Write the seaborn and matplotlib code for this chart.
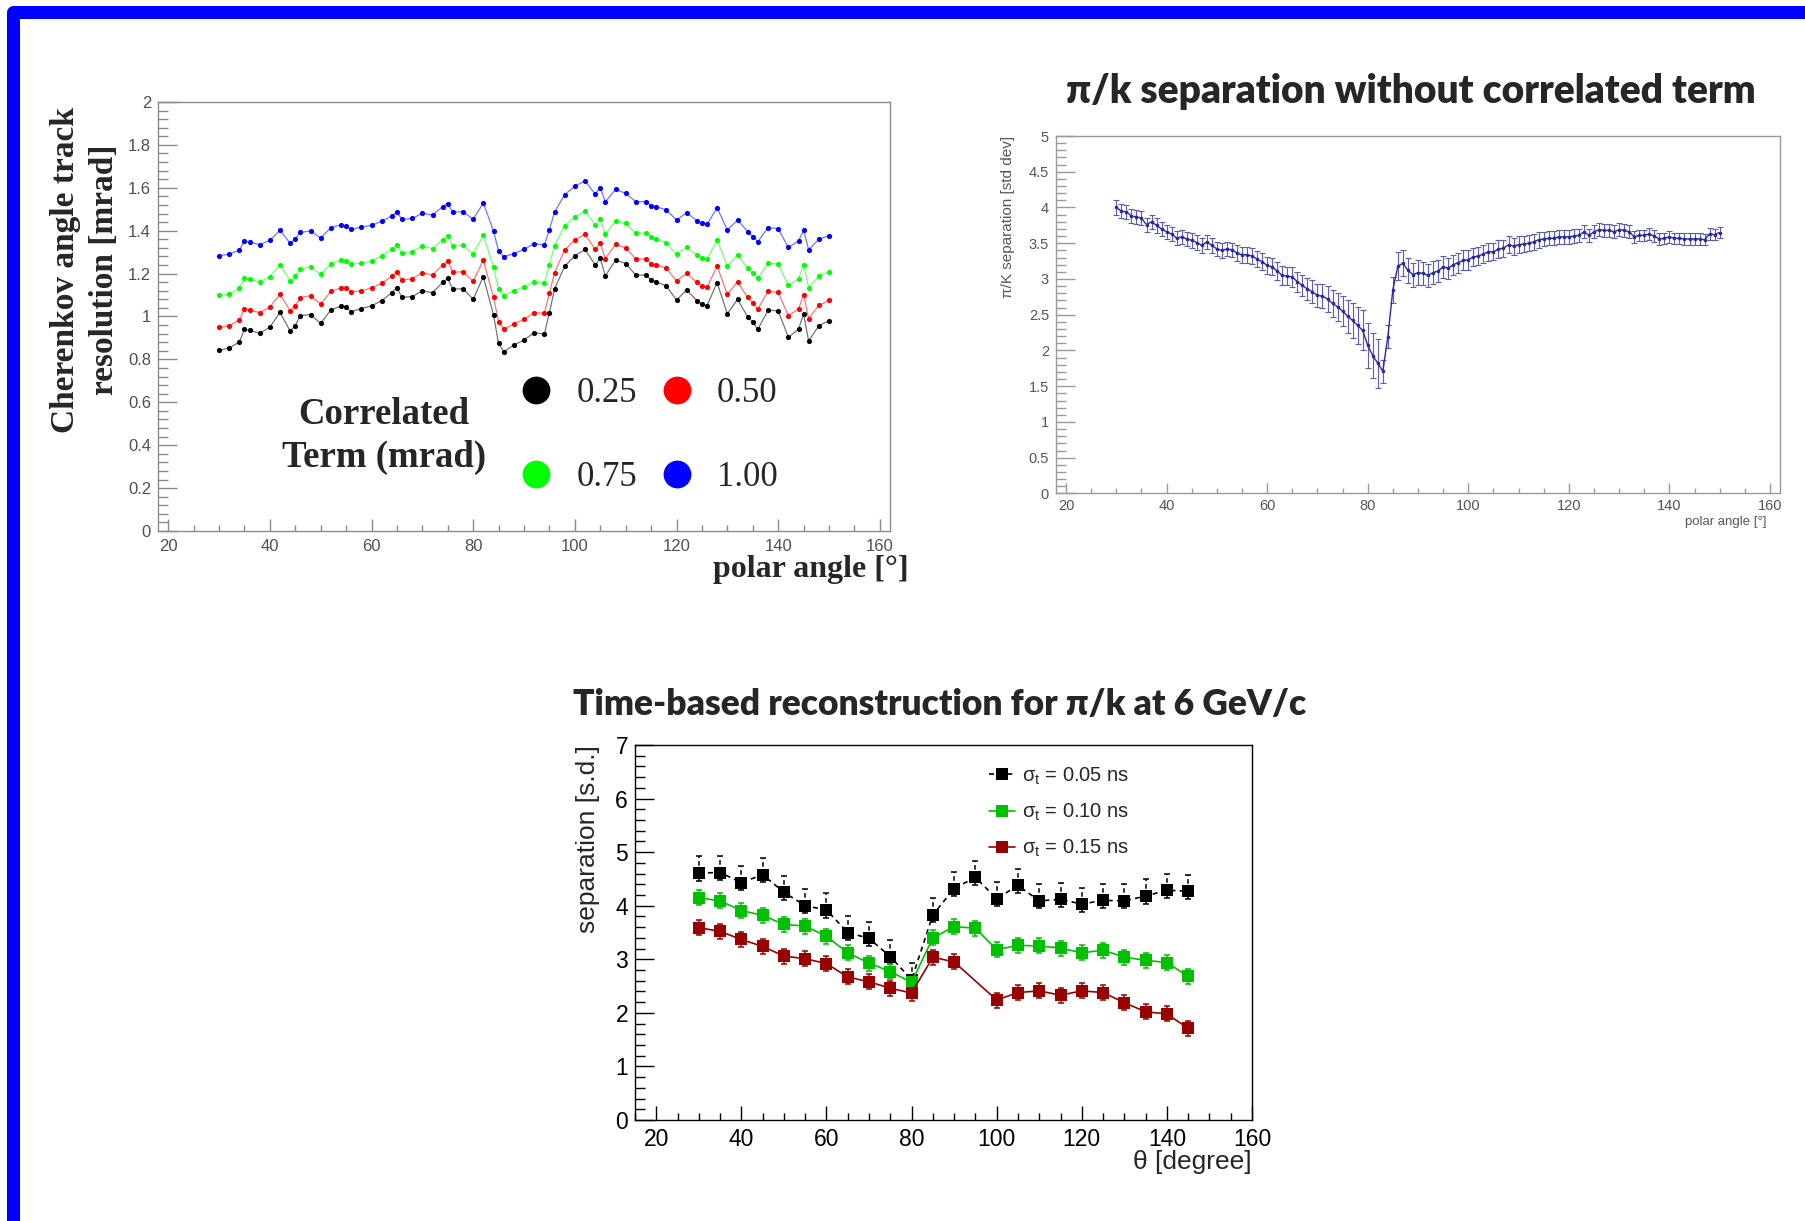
import matplotlib
matplotlib.use("Agg")
import matplotlib.pyplot as plt
import seaborn as sns
from matplotlib.lines import Line2D
from matplotlib.patches import Rectangle
from matplotlib.ticker import MultipleLocator, FuncFormatter

W, H = 1805, 1221

# ---------------- Cherenkov angle track resolution vs polar angle ----------------
res_angle = [30, 32, 34, 35, 36, 38, 40, 42, 44, 45, 46, 48, 50, 52, 54, 55, 56, 58, 60, 62, 64, 65, 66, 68, 70,
             72, 74, 75, 76, 78, 80, 82, 84, 85, 86, 88, 90, 92, 94, 95, 96, 98, 100, 102, 104, 105, 106, 108, 110,
             112, 114, 115, 116, 118, 120, 122, 124, 125, 126, 128, 130, 132, 134, 135, 136, 138, 140, 142, 144, 145,
             146, 148, 150]
res_025 = [0.842, 0.853, 0.881, 0.940, 0.936, 0.922, 0.950, 1.019, 0.932, 0.957, 1.004, 1.009, 0.968, 1.030, 1.049,
           1.044, 1.023, 1.037, 1.049, 1.074, 1.111, 1.134, 1.089, 1.093, 1.120,
           1.111, 1.159, 1.178, 1.127, 1.130, 1.080, 1.186, 1.007, 0.875, 0.836, 0.867, 0.890, 0.925, 0.918, 1.018,
           1.127, 1.235, 1.282, 1.313, 1.240, 1.271, 1.189, 1.263, 1.247,
           1.193, 1.193, 1.170, 1.162, 1.142, 1.077, 1.124, 1.074, 1.058, 1.051, 1.158, 1.012, 1.080, 0.999, 0.973,
           0.940, 1.029, 1.027, 0.903, 0.940, 1.012, 0.886, 0.957, 0.981]
res_050 = [0.950, 0.957, 0.984, 1.035, 1.030, 1.018, 1.044, 1.103, 1.027, 1.050, 1.088, 1.097, 1.058, 1.117, 1.134,
           1.131, 1.116, 1.119, 1.134, 1.155, 1.187, 1.209, 1.170, 1.176, 1.204,
           1.193, 1.240, 1.259, 1.206, 1.209, 1.164, 1.263, 1.089, 0.976, 0.940, 0.965, 0.987, 1.018, 1.015, 1.108,
           1.204, 1.310, 1.357, 1.383, 1.313, 1.341, 1.270, 1.336, 1.320,
           1.268, 1.268, 1.246, 1.242, 1.225, 1.166, 1.201, 1.159, 1.142, 1.136, 1.235, 1.103, 1.162, 1.089, 1.061,
           1.035, 1.117, 1.113, 1.004, 1.035, 1.102, 0.990, 1.052, 1.075]
res_075 = [1.099, 1.105, 1.131, 1.178, 1.173, 1.161, 1.186, 1.240, 1.167, 1.189, 1.223, 1.231, 1.197, 1.246, 1.263,
           1.259, 1.243, 1.249, 1.257, 1.284, 1.313, 1.332, 1.296, 1.303, 1.328,
           1.317, 1.357, 1.373, 1.329, 1.333, 1.292, 1.379, 1.231, 1.126, 1.096, 1.121, 1.138, 1.162, 1.157, 1.240,
           1.330, 1.423, 1.464, 1.491, 1.427, 1.454, 1.383, 1.446, 1.434,
           1.388, 1.388, 1.369, 1.363, 1.341, 1.291, 1.322, 1.287, 1.271, 1.267, 1.357, 1.235, 1.288, 1.225, 1.201,
           1.178, 1.248, 1.245, 1.145, 1.176, 1.239, 1.134, 1.189, 1.208]
res_100 = [1.284, 1.290, 1.310, 1.352, 1.347, 1.335, 1.355, 1.402, 1.341, 1.363, 1.392, 1.399, 1.366, 1.414, 1.428,
           1.422, 1.406, 1.417, 1.425, 1.444, 1.469, 1.486, 1.453, 1.457, 1.481,
           1.473, 1.512, 1.526, 1.486, 1.489, 1.453, 1.529, 1.399, 1.305, 1.279, 1.293, 1.313, 1.340, 1.333, 1.405,
           1.486, 1.568, 1.607, 1.632, 1.571, 1.601, 1.534, 1.593, 1.574,
           1.535, 1.535, 1.517, 1.512, 1.497, 1.450, 1.484, 1.447, 1.434, 1.430, 1.507, 1.403, 1.450, 1.396, 1.371,
           1.349, 1.414, 1.410, 1.322, 1.352, 1.402, 1.312, 1.360, 1.377]
corr_terms = ["0.25", "0.50", "0.75", "1.00"]
corr_colors = ["#000000", "#ff0000", "#00ff00", "#0000ff"]

# ---------------- pi/K separation without correlated term ----------------
sep_angle = list(range(30, 151))
sep_value = [4.00, 3.95, 3.94, 3.88, 3.87, 3.85, 3.76, 3.80, 3.75, 3.70,
             3.66, 3.63, 3.57, 3.59, 3.56, 3.54, 3.51, 3.47, 3.52, 3.47,
             3.42, 3.40, 3.42, 3.41, 3.36, 3.34, 3.34, 3.32, 3.28, 3.24,
             3.19, 3.17, 3.11, 3.05, 3.04, 3.03, 2.96, 2.91, 2.86, 2.82,
             2.77, 2.76, 2.72, 2.66, 2.61, 2.55, 2.48, 2.42, 2.35, 2.28,
             2.07, 1.93, 1.82, 1.71, 2.19, 2.85, 3.18, 3.22, 3.12, 3.06,
             3.09, 3.08, 3.05, 3.09, 3.11, 3.17, 3.15, 3.20, 3.23, 3.26,
             3.27, 3.31, 3.32, 3.35, 3.38, 3.38, 3.42, 3.43, 3.48, 3.46,
             3.48, 3.49, 3.50, 3.52, 3.55, 3.56, 3.57, 3.57, 3.59, 3.59,
             3.59, 3.60, 3.61, 3.66, 3.61, 3.66, 3.69, 3.68, 3.68, 3.66,
             3.69, 3.68, 3.66, 3.59, 3.61, 3.61, 3.63, 3.60, 3.56, 3.57,
             3.59, 3.57, 3.57, 3.56, 3.56, 3.56, 3.56, 3.55, 3.63, 3.62,
             3.65]
sep_error = [0.10, 0.10, 0.10, 0.10, 0.10, 0.10, 0.10, 0.10, 0.10, 0.10,
             0.10, 0.10, 0.10, 0.10, 0.10, 0.10, 0.10, 0.10, 0.10, 0.10,
             0.10, 0.10, 0.10, 0.10, 0.11, 0.11, 0.11, 0.11, 0.11, 0.12,
             0.12, 0.12, 0.13, 0.13, 0.13, 0.14, 0.14, 0.15, 0.15, 0.16,
             0.16, 0.17, 0.18, 0.19, 0.20, 0.21, 0.23, 0.24, 0.26, 0.28,
             0.31, 0.32, 0.34, 0.16, 0.16, 0.18, 0.20, 0.18, 0.17, 0.17,
             0.17, 0.16, 0.16, 0.16, 0.15, 0.15, 0.15, 0.14, 0.14, 0.14,
             0.14, 0.13, 0.13, 0.13, 0.13, 0.12, 0.12, 0.12, 0.12, 0.12,
             0.12, 0.11, 0.11, 0.11, 0.11, 0.10, 0.10, 0.10, 0.10, 0.10,
             0.10, 0.10, 0.09, 0.09, 0.09, 0.09, 0.09, 0.09, 0.09, 0.09,
             0.09, 0.09, 0.09, 0.08, 0.08, 0.08, 0.08, 0.08, 0.08, 0.08,
             0.08, 0.08, 0.08, 0.08, 0.08, 0.08, 0.08, 0.08, 0.08, 0.08,
             0.08]

# ---------------- time-based reconstruction, pi/K at 6 GeV/c ----------------
tb_angle = [30, 35, 40, 45, 50, 55, 60, 65, 70, 75, 80, 85, 90, 95, 100, 105, 110, 115, 120, 125, 130, 135, 140, 145]
tb_sep_005 = [4.61, 4.62, 4.43, 4.58, 4.25, 4.00, 3.92, 3.50, 3.39, 3.05, 2.62, 3.83,
              4.32, 4.53, 4.13, 4.38, 4.09, 4.12, 4.03, 4.10, 4.09, 4.18, 4.29, 4.27]
tb_sep_010 = [4.15, 4.09, 3.91, 3.82, 3.65, 3.62, 3.43, 3.12, 2.93, 2.77, 2.57, 3.40,
              3.61, 3.58, 3.18, 3.26, 3.25, 3.21, 3.12, 3.17, 3.04, 2.98, 2.94, 2.68]
tb_angle_015 = [30, 35, 40, 45, 50, 55, 60, 65, 70, 75, 80, 85, 90, 100, 105, 110, 115, 120, 125, 130, 135, 140, 145]
tb_sep_015 = [3.59, 3.52, 3.37, 3.24, 3.06, 3.01, 2.92, 2.67, 2.58, 2.46, 2.37, 3.04,
              2.95, 2.24, 2.38, 2.41, 2.33, 2.41, 2.38, 2.19, 2.02, 1.98, 1.71]
tb_err_up_005, tb_err_lo_005 = 0.31, 0.14
tb_err = 0.14
tb_labels = [r"σ$_{\mathrm{t}}$ = 0.05 ns", r"σ$_{\mathrm{t}}$ = 0.10 ns", r"σ$_{\mathrm{t}}$ = 0.15 ns"]
tb_colors = ["#000000", "#00c000", "#990000"]

# ---------------- styling ----------------
sns.set_style("white")
plt.rcParams["font.family"] = ["Liberation Sans", "DejaVu Sans"]
plt.rcParams["mathtext.fontset"] = "custom"
plt.rcParams["mathtext.rm"] = "Liberation Sans"
plt.rcParams["mathtext.it"] = "Liberation Sans:italic"
SERIF = ["Liberation Serif", "DejaVu Serif"]
TITLE = ["Lato", "Open Sans", "DejaVu Sans"]

fig = plt.figure(figsize=(W / 100, H / 100), dpi=100)


def px_axes(left, top, right, bottom):
    return fig.add_axes([left / W, 1 - bottom / H, (right - left) / W, (bottom - top) / H])


def root_frame(ax, xmaj, xmin, ymaj, ymin, frame_col, lab_col, fs, ylen, xlen, xpad=6):
    ax.set_facecolor("white")
    for s in ax.spines.values():
        s.set_visible(True)
        s.set_color(frame_col)
        s.set_linewidth(1.0)
    ax.xaxis.set_major_locator(MultipleLocator(xmaj))
    ax.xaxis.set_minor_locator(MultipleLocator(xmin))
    ax.yaxis.set_major_locator(MultipleLocator(ymaj))
    ax.yaxis.set_minor_locator(MultipleLocator(ymin))
    fmt = FuncFormatter(lambda v, p: f"{v:g}")
    ax.xaxis.set_major_formatter(fmt)
    ax.yaxis.set_major_formatter(fmt)
    ax.tick_params(which="both", direction="in", top=False, right=False,
                   bottom=True, left=True, color=frame_col, labelcolor=lab_col,
                   labelsize=fs, width=1.0)
    ax.tick_params(axis="y", which="major", length=ylen, pad=5)
    ax.tick_params(axis="y", which="minor", length=ylen / 2)
    ax.tick_params(axis="x", which="major", length=xlen, pad=xpad)
    ax.tick_params(axis="x", which="minor", length=xlen / 2)
    ax.grid(False)


# ---- panel 1: resolution ----
ax1 = px_axes(158, 102, 890, 531)
for vals, col in zip([res_025, res_050, res_075, res_100], corr_colors):
    sns.lineplot(x=res_angle, y=vals, ax=ax1, color=col, lw=0.9, alpha=0.55,
                 estimator=None, sort=False, legend=False)
    sns.scatterplot(x=res_angle, y=vals, ax=ax1, color=col, s=14, linewidth=0,
                    legend=False, zorder=3)
ax1.set_xlim(18, 162)
ax1.set_ylim(0, 2)
root_frame(ax1, 20, 5, 0.2, 0.04, "#8a8a8a", "#505050", 12, 14, 9)
ax1.set_xlabel("")
ax1.set_ylabel("")

fig.text(85 / W, 1 - 270 / H, "Cherenkov angle track\nresolution [mrad]", rotation=90,
         ha="center", va="center", multialignment="center", fontsize=24,
         fontweight="bold", family=SERIF, linespacing=1.3)
fig.text(909 / W, 1 - 570 / H, "polar angle [°]", ha="right", va="center",
         fontsize=23, fontweight="bold", family=SERIF)
fig.text(384 / W, 1 - 436 / H, "Correlated\nTerm (mrad)", ha="center", va="center",
         multialignment="center", fontsize=26.5, fontweight="bold", family=SERIF,
         linespacing=1.3)

order = [0, 2, 1, 3]
handles = [Line2D([], [], ls="", marker="o", markersize=20, markeredgewidth=0,
                  color=corr_colors[i]) for i in order]
leg1 = ax1.legend(handles, [corr_terms[i] for i in order], ncol=2, frameon=False,
                  loc="upper left", bbox_to_anchor=(519 / W, 1 - 377 / H),
                  bbox_transform=fig.transFigure, borderpad=0, borderaxespad=0,
                  handlelength=1.0, handletextpad=0.65, columnspacing=0.65,
                  labelspacing=1.47, prop={"family": SERIF, "size": 25})

# ---- panel 2: separation without correlated term ----
ax2 = px_axes(1056, 136, 1780, 493.5)
ax2.errorbar(sep_angle, sep_value, yerr=sep_error, fmt="none", ecolor="#5a5ab8",
             elinewidth=0.8, capsize=2.2, capthick=0.8, zorder=2)
sns.lineplot(x=sep_angle, y=sep_value, ax=ax2, color="#2a2aa0", lw=1.0,
             marker="o", markersize=2.6, markeredgewidth=0, estimator=None,
             sort=False, legend=False, zorder=3)
ax2.set_xlim(18, 162)
ax2.set_ylim(0, 5)
root_frame(ax2, 20, 5, 0.5, 0.1, "#9a9a9a", "#555555", 10.5, 14, 7, xpad=4)
ax2.set_ylabel("π/K separation [std dev]", loc="top", fontsize=11, color="#555555")
ax2.yaxis.set_label_coords(-0.057, 1.0)
ax2.set_xlabel("polar angle [°]", loc="right", fontsize=9.5, color="#555555")
ax2.xaxis.set_label_coords(0.982, -0.062)
fig.text(1411 / W, 1 - 92 / H, "π/k separation without correlated term",
         ha="center", va="center", fontsize=28, fontweight="heavy", family=TITLE)

# ---- panel 3: time-based reconstruction ----
ax3 = px_axes(635, 745, 1252, 1120)
series = [(tb_angle, tb_sep_005, [tb_err_lo_005, tb_err_up_005]),
          (tb_angle, tb_sep_010, [tb_err, tb_err]),
          (tb_angle_015, tb_sep_015, [tb_err, tb_err])]
tb_handles = []
for (xs, ys, (elo, eup)), col, lab, i in zip(series, tb_colors, tb_labels, range(3)):
    eb = ax3.errorbar(xs, ys, yerr=[[elo] * len(xs), [eup] * len(xs)], fmt="none",
                      ecolor=col, elinewidth=1.1, capsize=2.2, capthick=1.1, zorder=2)
    sns.lineplot(x=xs, y=ys, ax=ax3, color=col, lw=1.2, marker="s", markersize=8,
                 markeredgewidth=0, estimator=None, sort=False, legend=False, zorder=3)
    line = ax3.lines[-1]
    if i == 0:
        line.set_dashes([3, 2.5])
        for seg in eb[2]:
            seg.set_linestyle((0, (3, 2)))
    tb_handles.append(Line2D([], [], color=col, lw=1.2, marker="s", markersize=8,
                             markeredgewidth=0, ls="--" if i == 0 else "-",
                             dashes=[3, 2.5] if i == 0 else (None, None)))
ax3.set_xlim(15, 160)
ax3.set_ylim(0, 7)
root_frame(ax3, 20, 5, 1, 0.2, "#000000", "#000000", 16.5, 14, 10)
ax3.set_ylabel("separation [s.d.]", loc="top", fontsize=19)
ax3.yaxis.set_label_coords(-0.057, 1.0)
ax3.set_xlabel("θ [degree]", loc="right", fontsize=19)
ax3.xaxis.set_label_coords(1.0, -0.08)
ax3.legend(tb_handles, tb_labels, frameon=False, loc="upper left",
           bbox_to_anchor=(0.574, 0.946), borderpad=0, borderaxespad=0,
           handlelength=1.3, handletextpad=0.35, labelspacing=0.75,
           prop={"size": 14.5})
fig.text(940 / W, 1 - 705 / H, "Time-based reconstruction for π/k at 6 GeV/c",
         ha="center", va="center", fontsize=25.5, fontweight="heavy", family=TITLE)

# ---- slide frame ----
frame = Rectangle((12.5 / W, -2.0 / H), (1809.0 - 12.5) / W, (1223.0 - 12) / H,
                  transform=fig.transFigure, fill=False, edgecolor="#0000ff",
                  linewidth=13 * 0.72, clip_on=False, joinstyle="round")
fig.add_artist(frame)

fig.savefig("out.png", dpi=100)
